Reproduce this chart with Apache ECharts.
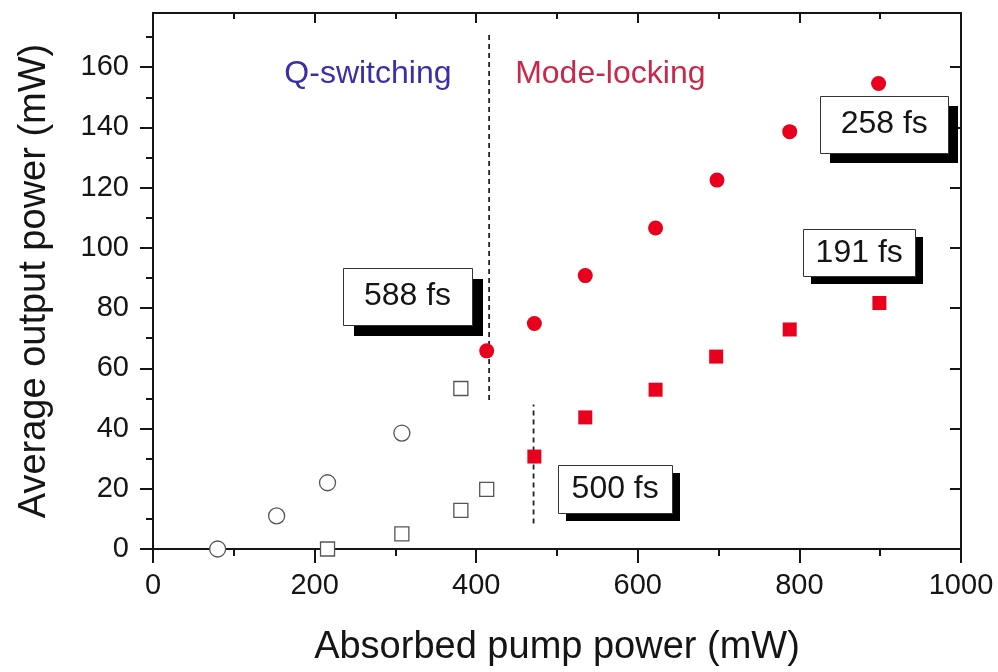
<!DOCTYPE html>
<html>
<head>
<meta charset="UTF-8">
<title>Average output power</title>
<script type="text/javascript" src="https://cdn.jsdelivr.net/npm/echarts@6.0.0/dist/echarts.min.js"></script>
<style>
  body { margin: 0; background: #fff; }
  #chart { width: 998px; height: 672px; }
</style>
</head>
<body>
<div id="chart"></div>
<script>
// absorbed pump power (mW) / average output power (mW)
var qsCircleX = [80, 153, 216, 308];
var qsCircleY = [0, 11, 22, 38.5];
var qsSquareX = [216, 308, 381, 413, 381];
var qsSquareY = [0, 5, 12.8, 19.8, 53.3];
var mlCircleX = [413, 472, 535, 622, 698, 788, 898];
var mlCircleY = [65.8, 74.9, 90.8, 106.6, 122.5, 138.6, 154.6];
var mlSquareX = [472, 535, 622, 697, 788, 899];
var mlSquareY = [30.7, 43.7, 52.9, 63.9, 72.9, 81.7];

// threshold markers (x, y from, y to)
var thresholdX = [416, 471];
var thresholdY0 = [49.5, 8.5];
var thresholdY1 = [171, 48];

// pulse duration boxes, anchored at their centre in data units
var boxText = ['588 fs', '258 fs', '191 fs', '500 fs'];
var boxX = [315, 905, 874, 572];
var boxY = [84, 141, 98.3, 20];

var regionText = ['Q-switching', 'Mode-locking'];
var regionX = [266, 566];
var regionY = [157.7, 157.7];

var yMajor = [0, 20, 40, 60, 80, 100, 120, 140, 160];
var yMinor = [10, 30, 50, 70, 90, 110, 130, 150, 170];

var FONT = '"Liberation Sans", Arial, Helvetica, sans-serif';
var INK = '#151515';

function pairs(xs, ys) {
    var out = [];
    for (var i = 0; i < xs.length; i++) out.push([xs[i], ys[i]]);
    return out;
}

var series = [];

series.push({
    type: 'scatter', z: 3, symbol: 'circle', symbolSize: 16,
    itemStyle: { color: '#fff', borderColor: '#555', borderWidth: 1.3, opacity: 1 },
    data: pairs(qsCircleX, qsCircleY)
});
series.push({
    type: 'scatter', z: 3, symbol: 'rect', symbolSize: 14,
    itemStyle: { color: '#fff', borderColor: '#555', borderWidth: 1.3, opacity: 1 },
    data: pairs(qsSquareX, qsSquareY)
});
series.push({
    type: 'scatter', z: 3, symbol: 'circle', symbolSize: 15,
    itemStyle: { color: '#e8001c', opacity: 1 },
    data: pairs(mlCircleX, mlCircleY)
});
series.push({
    type: 'scatter', z: 3, symbol: 'rect', symbolSize: 14,
    itemStyle: { color: '#e8001c', opacity: 1 },
    data: pairs(mlSquareX, mlSquareY)
});

for (var t = 0; t < thresholdX.length; t++) {
    series.push({
        type: 'line', z: 2, symbol: 'none', silent: true,
        lineStyle: { color: '#222', width: 1.8, type: [5, 4] },
        data: [[thresholdX[t], thresholdY0[t]], [thresholdX[t], thresholdY1[t]]]
    });
}

var regionColor = ['#3a2fa8', '#c8284a'];
for (var r = 0; r < regionText.length; r++) {
    series.push({
        type: 'scatter', z: 4, symbolSize: 0, silent: true,
        itemStyle: { opacity: 1 },
        label: {
            show: true, position: 'inside', formatter: regionText[r],
            fontFamily: FONT, fontSize: 32, color: regionColor[r]
        },
        data: [[regionX[r], regionY[r]]]
    });
}

var tickStyle = { color: INK, width: 2 };
var lineStyle = { color: INK, width: 2 };

var option = {
    backgroundColor: '#fff',
    animation: false,
    grid: { left: 153, right: 37, top: 13, bottom: 123 },
    xAxis: [{
        type: 'value', position: 'bottom', min: 0, max: 1000, interval: 200,
        axisLine: { show: true, onZero: false, lineStyle: lineStyle },
        axisTick: { show: true, inside: false, length: 14, lineStyle: tickStyle },
        minorTick: { show: true, splitNumber: 2, length: 7, lineStyle: tickStyle },
        splitLine: { show: false },
        axisLabel: { fontFamily: FONT, fontSize: 29, color: INK, margin: 22,
            formatter: function (v) { return String(v); } },
        name: 'Absorbed pump power (mW)', nameLocation: 'middle', nameGap: 80,
        nameTextStyle: { fontFamily: FONT, fontSize: 38, color: INK }
    }, {
        type: 'value', position: 'top', min: 0, max: 1000, interval: 200,
        axisLine: { show: true, onZero: false, lineStyle: lineStyle },
        axisTick: { show: true, inside: true, length: 10, lineStyle: tickStyle },
        minorTick: { show: true, splitNumber: 2, length: 6, lineStyle: tickStyle },
        splitLine: { show: false },
        axisLabel: { show: false }
    }],
    yAxis: [{
        type: 'value', position: 'left', min: 0, max: 178, interval: 20,
        axisLine: { show: true, onZero: false, lineStyle: lineStyle },
        axisTick: { show: true, inside: false, length: 13, customValues: yMajor, lineStyle: tickStyle },
        splitLine: { show: false },
        axisLabel: { fontFamily: FONT, fontSize: 29, color: INK, margin: 24, customValues: yMajor },
        name: 'Average output power (mW)', nameLocation: 'middle', nameGap: 99,
        nameTextStyle: { fontFamily: FONT, fontSize: 38, color: INK }
    }, {
        type: 'value', position: 'left', min: 0, max: 178,
        axisLine: { show: false },
        axisTick: { show: true, inside: false, length: 7, customValues: yMinor, lineStyle: tickStyle },
        splitLine: { show: false },
        axisLabel: { show: false }
    }, {
        type: 'value', position: 'right', min: 0, max: 178,
        axisLine: { show: true, onZero: false, lineStyle: lineStyle },
        axisTick: { show: true, inside: true, length: 11, customValues: yMajor, lineStyle: tickStyle },
        splitLine: { show: false },
        axisLabel: { show: false }
    }, {
        type: 'value', position: 'right', min: 0, max: 178,
        axisLine: { show: false },
        axisTick: { show: true, inside: true, length: 6, customValues: yMinor, lineStyle: tickStyle },
        splitLine: { show: false },
        axisLabel: { show: false }
    }],
    series: series
};

var chart = echarts.init(document.getElementById('chart'));
chart.setOption(option);

// boxed labels with a solid drop shadow, placed from data coords
var boxW = [129, 128, 112, 114];
var boxH = [57, 57, 47, 48];
var boxShadow = [11, 10, 8, 8];
var graphics = [];
for (var b = 0; b < boxText.length; b++) {
    var p = chart.convertToPixel({ xAxisIndex: 0, yAxisIndex: 0 }, [boxX[b], boxY[b]]);
    var x0 = Math.round(p[0] - boxW[b] / 2), y0 = Math.round(p[1] - boxH[b] / 2);
    graphics.push({
        type: 'rect', z: 10, silent: true,
        shape: { x: x0 + boxShadow[b], y: y0 + boxShadow[b], width: boxW[b], height: boxH[b] },
        style: { fill: '#000' }
    });
    graphics.push({
        type: 'rect', z: 11, silent: true,
        shape: { x: x0 + 0.5, y: y0 + 0.5, width: boxW[b], height: boxH[b] },
        style: { fill: '#fff', stroke: '#333', lineWidth: 1 }
    });
    graphics.push({
        type: 'text', z: 12, silent: true,
        x: p[0], y: p[1],
        style: { text: boxText[b], fill: INK, font: '32px ' + FONT, align: 'center', verticalAlign: 'middle' }
    });
}
chart.setOption({ graphic: graphics });
</script>
</body>
</html>
